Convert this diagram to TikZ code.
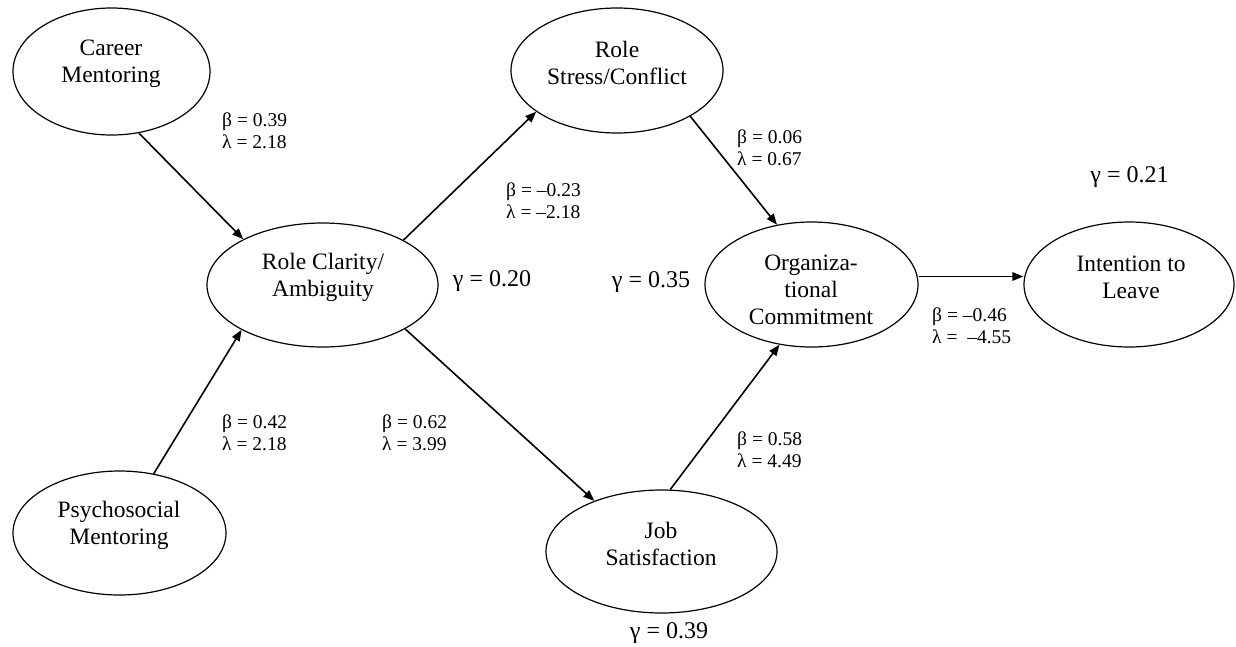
\documentclass[tikz,border=0pt]{standalone}
\usepackage{fontspec}
\setmainfont{Liberation Serif}
\usetikzlibrary{arrows.meta,shapes.geometric}

\begin{document}
\begin{tikzpicture}[x=1pt, y=-1pt, >={Triangle[length=11pt,width=8.5pt]},
	latent/.style={ellipse, draw, line width=1.2pt, inner sep=0pt},
	lbl/.style={align=center, font=\fontsize{23.5}{27}\selectfont},
	coef/.style={anchor=west, align=left, inner sep=0pt, font=\fontsize{19.5}{22}\selectfont},
	gam/.style={font=\fontsize{24}{28}\selectfont},
	link/.style={->, line width=1.6pt}]
				\useasboundingbox (0,0) rectangle (1236,646);
				\node[latent, minimum width=197pt, minimum height=127pt] (cm) at (111.5,71.5) {};
				\node[latent, minimum width=213pt, minimum height=124pt] (pm) at (119.5,533) {};
				\node[latent, minimum width=231pt, minimum height=124pt] (rc) at (322.5,285) {};
				\node[latent, minimum width=212pt, minimum height=125pt] (rs) at (617,70.5) {};
				\node[latent, minimum width=231pt, minimum height=123pt] (js) at (661.5,551.5) {};
				\node[latent, minimum width=213pt, minimum height=125pt] (oc) at (811.5,284.5) {};
				\node[latent, minimum width=210pt, minimum height=125pt] (il) at (1129,284.5) {};
				\node[lbl] (cm-t) at (111,64) {Career\\Mentoring};
				\node[lbl] (pm-t) at (119,525) {Psychosocial\\Mentoring};
				\node[lbl] (rc-t) at (323,277) {Role Clarity/\\Ambiguity};
				\node[lbl] (rs-t) at (617,63) {Role\\Stress/Conflict};
				\node[lbl] (js-t) at (661,543.5) {Job\\Satisfaction};
				\node[lbl] (oc-t) at (811,290) {Organiza-\\tional\\Commitment};
				\node[lbl] (il-t) at (1131,277) {Intention to\\Leave};
				\draw[link] (cm.-66.7) -- (rc.150);
				\draw[link] (pm.60) -- (rc.209.5);
				\draw[link] (rc.29.7) -- (rs.207);
				\draw[link] (rs.-32) -- (oc.120);
				\draw[link] (rc.-28) -- (js.143);
				\draw[link] (js.82) -- (oc.-118.5);
				\draw[link] ([yshift=8pt]oc.east) -- ([yshift=8pt]il.west);
				\node[coef] (cm-rc) at (222,131) {β = 0.39\\λ = 2.18};
				\node[coef] (rc-rs) at (506,201) {β = –0.23\\λ = –2.18};
				\node[coef] (rs-oc) at (737,148) {β = 0.06\\λ = 0.67};
				\node[coef] (oc-il) at (932,326) {β = –0.46\\λ =\ \ –4.55};
				\node[coef] (pm-rc) at (222,433) {β = 0.42\\λ = 2.18};
				\node[coef] (rc-js) at (382,433) {β = 0.62\\λ = 3.99};
				\node[coef] (js-oc) at (737,450) {β = 0.58\\λ = 4.49};
				\node[gam] (rc-g) at (492,281) {γ = 0.20};
				\node[gam] (oc-g) at (651,282) {γ = 0.35};
				\node[gam] (il-g) at (1129.5,177) {γ = 0.21};
				\node[gam] (js-g) at (669,633) {γ = 0.39};
			\end{tikzpicture}
\end{document}
